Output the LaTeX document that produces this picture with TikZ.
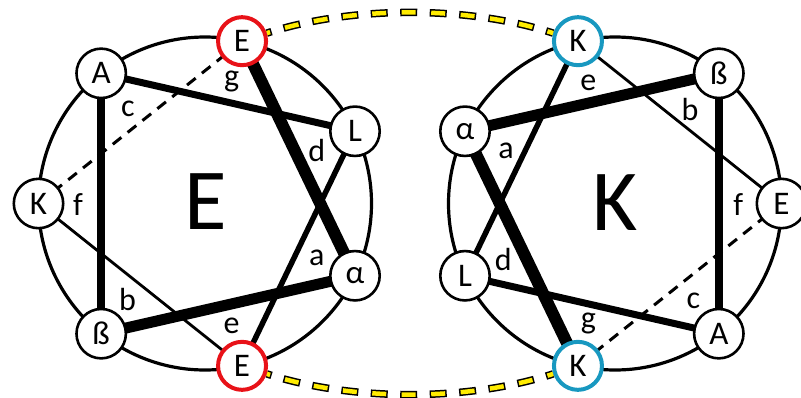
\documentclass[tikz,border=0pt]{standalone}
\usepackage{fontspec}
\newfontfamily\lf{Carlito}
\usetikzlibrary{backgrounds}
\definecolor{redring}{RGB}{232,18,24}
\definecolor{bluering}{RGB}{24,152,192}
\definecolor{dashyel}{RGB}{255,236,0}
\tikzset{
  resnode/.style={circle, draw=black, line width=2.6pt, fill=white, minimum size=49.4pt, inner sep=0pt, font=\lf\fontsize{33}{33}\selectfont},
  resE/.style={resnode, draw=redring, line width=4pt, minimum size=48pt},
  resK/.style={resnode, draw=bluering, line width=4pt, minimum size=48pt},
  heptlbl/.style={anchor=base, inner sep=0pt, font=\lf\fontsize{32}{32}\selectfont},
  biglbl/.style={inner sep=0pt, font=\lf\fontsize{87}{87}\selectfont},
  wheelring/.style={draw=black, line width=3.2pt},
  bondw/.style={draw=black, line width=#1},
  thindash/.style={draw=black, line width=3pt, dash pattern=on 11pt off 8pt},
  ydashout/.style={draw=black, line width=7.5pt, dash pattern=on 17pt off 12.5pt, dash phase=12pt},
  ydashin/.style={draw=dashyel, line width=4.5pt, dash pattern=on 14pt off 15.5pt, dash phase=10.5pt},
}
\begin{document}
\begin{tikzpicture}[x=1pt,y=-1pt]
\useasboundingbox (0,0) rectangle (801,397);
\coordinate (C1) at (205,203.5);
\coordinate (C2) at (615,203.5);
% left wheel residues
\node[resnode] (LK)  at (38.5,203.5)   {K};
\node[resnode] (LA)  at (101.19,73.33) {A};
\node[resE]    (LEt) at (242.05,41.17) {E};
\node[resnode] (LL)  at (355.01,131.26) {L};
\node[resnode] (Lal) at (355.01,275.74) {α};
\node[resE]    (LEb) at (242.05,365.83) {E};
\node[resnode] (Lss) at (101.19,333.67) {ß};
% right wheel residues
\node[resnode] (RE)  at (781.5,203.5)   {E};
\node[resnode] (RA)  at (718.81,333.67) {A};
\node[resK]    (RKb) at (577.95,365.83) {K};
\node[resnode] (RL)  at (464.99,275.74) {L};
\node[resnode] (Ral) at (464.99,131.26) {α};
\node[resK]    (RKt) at (577.95,41.17) {K};
\node[resnode] (Rss) at (718.81,73.33) {ß};
% centre letters
\node[biglbl] (bigE) at (205.5,201.7) {E};
\node[biglbl] (bigK) at (615,203) {K};
% heptad position letters, left
\node[heptlbl] (lg) at (231.7,86.7) {g};
\node[heptlbl] (lc) at (128,116.7) {c};
\node[heptlbl] (ld) at (316.7,161.7) {d};
\node[heptlbl] (lf) at (78,215) {f};
\node[heptlbl] (la) at (316.7,265) {a};
\node[heptlbl] (lb) at (127.5,310) {b};
\node[heptlbl] (le) at (231.7,333.3) {e};
% heptad position letters, right
\node[heptlbl] (re) at (588.3,90.7) {e};
\node[heptlbl] (rb) at (690,120) {b};
\node[heptlbl] (ra) at (506,158.3) {a};
\node[heptlbl] (rf) at (738.3,215) {f};
\node[heptlbl] (rd) at (503.3,270) {d};
\node[heptlbl] (rc) at (693.3,308.3) {c};
\node[heptlbl] (rg) at (588.3,328.3) {g};
\begin{scope}[on background layer]
  \draw[wheelring] (C1) circle[radius=166.5];
  \draw[wheelring] (C2) circle[radius=166.5];
  % left bonds
  \draw[bondw=12pt]  (LEt.center) -- (Lal.center);
  \draw[bondw=11pt]  (Lss.center) -- (Lal.center);
  \draw[bondw=8.5pt] (LA.center) -- (Lss.center);
  \draw[bondw=7pt]   (LA.center) -- (LL.center);
  \draw[bondw=5.5pt] (LL.center) -- (LEb.center);
  \draw[bondw=2.8pt] (LK.center) -- (LEb.center);
  \draw[thindash]    (LK.center) -- (LEt.center);
  % right bonds
  \draw[bondw=12pt]  (RKb.center) -- (Ral.center);
  \draw[bondw=11pt]  (Rss.center) -- (Ral.center);
  \draw[bondw=8.5pt] (RA.center) -- (Rss.center);
  \draw[bondw=7pt]   (RA.center) -- (RL.center);
  \draw[bondw=5.5pt] (RL.center) -- (RKt.center);
  \draw[bondw=2.8pt] (RE.center) -- (RKt.center);
  \draw[thindash]    (RE.center) -- (RKb.center);
  % yellow links
  \draw[ydashout] (LEt) to[out=18,in=162,looseness=0.8] (RKt);
  \draw[ydashin]  (LEt) to[out=18,in=162,looseness=0.8] (RKt);
  \draw[ydashout] (LEb) to[out=-18,in=-162,looseness=0.8] (RKb);
  \draw[ydashin]  (LEb) to[out=-18,in=-162,looseness=0.8] (RKb);
\end{scope}
\end{tikzpicture}
\end{document}
